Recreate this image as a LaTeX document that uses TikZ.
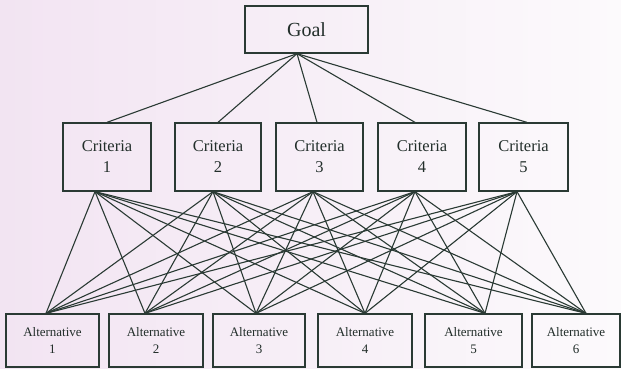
\documentclass[tikz,border=0pt]{standalone}
\usepackage{fontspec}
\setmainfont{Liberation Serif}
\definecolor{bgL}{RGB}{242,228,242}
\definecolor{bgR}{RGB}{252,250,252}
\definecolor{ink}{RGB}{42,58,52}
\begin{document}
\begin{tikzpicture}[x=1pt,y=-1pt,
  ln/.style={draw=ink, line width=1.1pt},
  box/.style={draw=ink, line width=1.3pt, rectangle, inner sep=0pt, align=center, text=ink!80!black},
  goalbox/.style={box, minimum width=123pt, minimum height=47pt, font=\fontsize{20}{24}\selectfont},
  critbox/.style={box, minimum width=88pt, minimum height=68pt, font=\fontsize{16.5}{21}\selectfont},
  altbox/.style={box, minimum width=94pt, minimum height=53pt, font=\fontsize{13}{17}\selectfont}]
\shade[left color=bgL, right color=bgR] (0,0) rectangle (621,369);
\useasboundingbox (0,0) rectangle (621,369);

\node[goalbox] (goal) at (306.5,29.5) {Goal};

\node[critbox] (c1) at (107,157) {Criteria\\1};
\node[critbox, minimum width=86pt] (c2) at (218,157) {Criteria\\2};
\node[critbox, minimum width=87pt] (c3) at (319.5,157) {Criteria\\3};
\node[critbox] (c4) at (422,157) {Criteria\\4};
\node[critbox, minimum width=89pt] (c5) at (523.5,157) {Criteria\\5};

\node[altbox, minimum width=93pt] (a1) at (52.5,340.5) {Alternative\\1};
\node[altbox] (a2) at (156,340.5) {Alternative\\2};
\node[altbox, minimum width=92pt] (a3) at (259,340.5) {Alternative\\3};
\node[altbox] (a4) at (365,340.5) {Alternative\\4};
\node[altbox, minimum width=97pt] (a5) at (473.5,340.5) {Alternative\\5};
\node[altbox, minimum width=88pt] (a6) at (576,340.5) {Alternative\\6};

% goal to criteria
\foreach \c/\o in {c1/0, c2/0, c3/-2.5, c4/-7, c5/3.5}
  \draw[ln] ([xshift=-9.5pt]goal.south) -- ([xshift=\o pt]\c.north);

% criteria to alternatives
\foreach \c/\co in {c1/-12, c2/-5, c3/-6.5, c4/-7, c5/-6.5}
  \foreach \a/\ao in {a1/-6.5, a2/-11, a3/-3, a4/0, a5/11.5, a6/10}
    \draw[ln] ([xshift=\co pt]\c.south) -- ([xshift=\ao pt]\a.north);
\end{tikzpicture}
\end{document}
